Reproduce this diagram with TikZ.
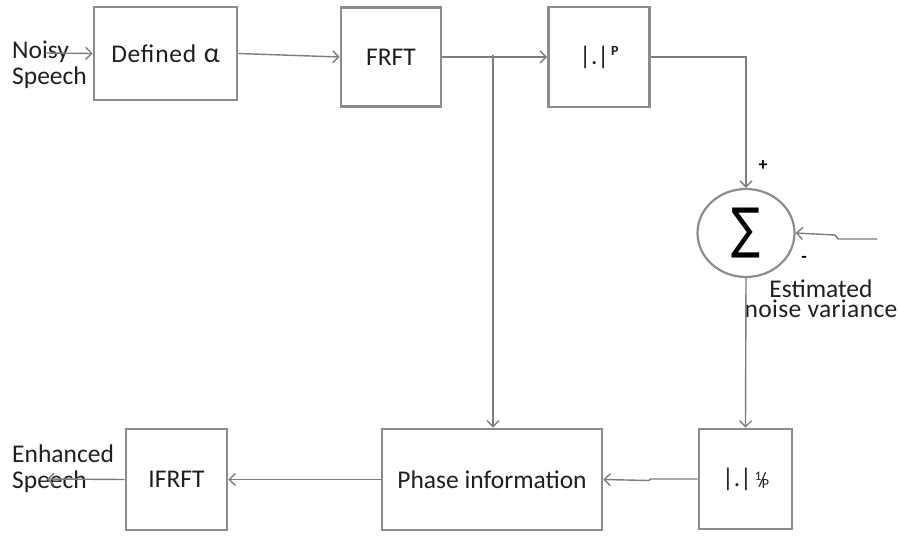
\documentclass[tikz,border=0pt]{standalone}
\usepackage{fontspec}
\setmainfont{Carlito}
\newfontfamily\symfont{DejaVu Sans}
\usetikzlibrary{arrows.meta,shapes.geometric}
\definecolor{boxgray}{RGB}{140,140,140}
\definecolor{linegray}{RGB}{125,125,125}
\begin{document}
\begin{tikzpicture}[x=1pt,y=-1pt,
  txt/.style={font=\fontsize{25.5}{26}\selectfont, text=black!88},
  block/.style={txt, draw=boxgray, line width=2.6pt, inner sep=0pt, fill=white},
  conn/.style={draw=linegray, line width=1.4pt, -{Straight Barb[length=6pt,width=12pt,line width=1.4pt]}},
  lbl/.style={txt, inner sep=0pt},
  sign/.style={font=\bfseries\fontsize{18}{18}\selectfont, inner sep=0pt}]
\useasboundingbox (0,0) rectangle (898,538);

% processing blocks
\node[block, minimum width=143pt, minimum height=93pt] (def) at (165.5,53.5)
  {\addfontfeature{LetterSpace=3}Defined\ \kern1pt{\fontsize{28}{28}\selectfont α}};
\node[block, minimum width=100pt, minimum height=99pt] (frft) at (391,57) {FRFT};
\node[block, minimum width=101pt, minimum height=100pt] (pow) at (599,57)
  {|.|\kern2pt\raisebox{9pt}{\bfseries\fontsize{14}{14}\selectfont P}};
\node[ellipse, draw=boxgray, line width=2.2pt, minimum width=97pt, minimum height=88pt, inner sep=0pt] (sum) at (746,233)
  {\raisebox{-5pt}{\resizebox*{29pt}{50pt}{\symfont ∑}}};
\node[block, minimum width=93pt, minimum height=100pt] (inv) at (745.5,479)
  {|.|\kern3pt\raisebox{6pt}{\fontsize{13}{13}\selectfont 1}\kern-3pt\raisebox{0pt}{\fontsize{20}{20}\selectfont /}\kern-4.5pt\raisebox{-2pt}{\fontsize{14}{14}\selectfont P}};
\node[block, minimum width=220pt, minimum height=101pt] (phase) at (492,479.5) {Phase information};
\node[block, minimum width=101pt, minimum height=101pt] (ifrft) at (176.5,479.5) {IFRFT};

% text labels (base anchor sits on the last line)
\node[lbl, anchor=base west, align=left] (noisy) at (12,84) {Noisy\\Speech};
\node[lbl, anchor=base west, align=left] (enh) at (12,488) {Enhanced\\Speech};
\node[lbl, anchor=base, align=center] (est) at (821,317)
  {Estimated\\[-6pt]{\addfontfeature{LetterSpace=1.5}noise variance}};
\node[sign] (plus) at (763,166) {+};
\node[sign] (minus) at (804,259) {-};

% signal flow
\coordinate (nin) at (45,53);
\coordinate (nvar) at (877,239);
\coordinate (eout) at (47,479);
\coordinate (br) at (493,55);

\draw[conn] (nin) -- (def.west);
\draw[conn] (def.east) -- (frft.west);
\draw[conn] (frft.east) -- (pow.west);
\draw[conn] (br) -- (br |- phase.north);
\draw[conn] (pow.east) -| (sum.north);
\draw[conn] (nvar) -- ++(-39,0) -- ++(-3,-4) -- (sum.east);
\draw[conn] (sum.south) -- (inv.north);
\draw[conn] (inv.west) -- ++(-47,0) -- ++(-2,1.5) -- (phase.east);
\draw[conn] (phase.west) -- (ifrft.east);
\draw[conn] (ifrft.west) -- (eout);
\end{tikzpicture}
\end{document}
